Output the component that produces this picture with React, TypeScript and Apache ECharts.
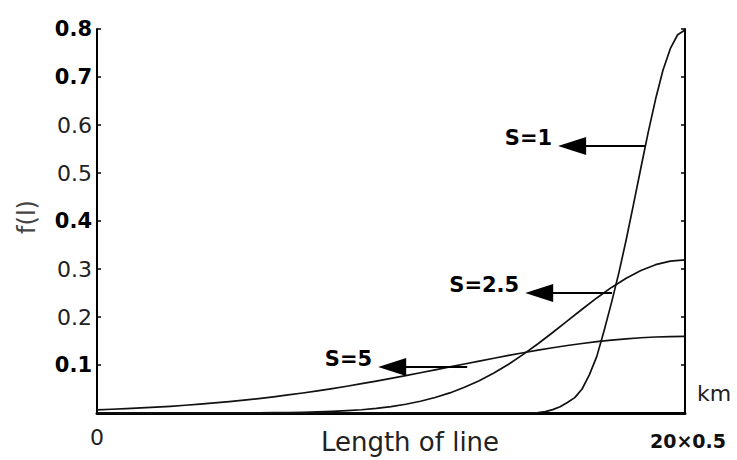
import React, { useEffect, useRef } from "react";
import * as echarts from "echarts";

// x in units of 0.5 km (0 .. 20)
const xCoarse = [0, 0.5, 1, 1.5, 2, 2.5, 3, 3.5, 4, 4.5, 5, 5.5, 6, 6.5, 7, 7.5, 8, 8.5, 9, 9.5, 10, 10.5, 11, 11.5, 12, 12.5, 13, 13.5, 14, 14.5, 15, 15.5, 16, 16.5, 17, 17.5, 18, 18.5, 19, 19.5, 20];
const s5Values = [0.0067, 0.0078, 0.0091, 0.0105, 0.0122, 0.014, 0.0161, 0.0184, 0.0209, 0.0237, 0.0267, 0.0301, 0.0337, 0.0376, 0.0417, 0.0462, 0.0509, 0.0558, 0.0611, 0.0665, 0.0722, 0.078, 0.0839, 0.0899, 0.096, 0.1021, 0.1082, 0.1141, 0.1199, 0.1255, 0.1309, 0.1359, 0.1406, 0.1448, 0.1486, 0.1519, 0.1546, 0.1568, 0.1583, 0.1593, 0.1596];
const s25Values = [0, 0, 0, 0, 0, 0, 0, 0.0001, 0.0001, 0.0002, 0.0003, 0.0004, 0.0006, 0.001, 0.0015, 0.0022, 0.0033, 0.0048, 0.0068, 0.0096, 0.0133, 0.0182, 0.0244, 0.0322, 0.0418, 0.0535, 0.0673, 0.0834, 0.1017, 0.1221, 0.1442, 0.1677, 0.1919, 0.2162, 0.2397, 0.2616, 0.2809, 0.297, 0.309, 0.3165, 0.319];
const xFine = [0, 14.75, 15, 15.25, 15.5, 15.75, 16, 16.25, 16.5, 16.75, 17, 17.25, 17.5, 17.75, 18, 18.25, 18.5, 18.75, 19, 19.25, 19.5, 19.75, 20];
const s1Values = [0, 0, 0.001, 0.003, 0.007, 0.013, 0.022, 0.032, 0.05, 0.08, 0.118, 0.172, 0.23, 0.292, 0.361, 0.435, 0.511, 0.585, 0.654, 0.714, 0.759, 0.788, 0.798];

const seriesNames = ["S=1", "S=2.5", "S=5"];
// arrow annotations: [arrowhead centre x, curve x, y]
const arrowS1 = [16.16, 18.64, 0.556];
const arrowS25 = [15.04, 17.52, 0.25];
const arrowS5 = [10.04, 12.59, 0.096];

const boldTicks = ["0.8", "0.7", "0.4", "0.1"];
const xEndLabels = ["0", "20×0.5"];

const FONT = "DejaVu Sans";

function pairs(xs: number[], ys: number[]) {
  return xs.map((x, i) => [x, ys[i]]);
}

function arrowLine(a: number[], name: string) {
  return {
    silent: true,
    animation: false,
    symbol: ["triangle", "none"],
    symbolSize: [18, 28],
    lineStyle: { color: "#000", width: 2, type: "solid" },
    label: {
      show: true,
      position: "start",
      distance: 20,
      formatter: `{t|${name}}`,
      rich: {
        t: {
          fontFamily: FONT,
          fontWeight: "bold",
          fontSize: 21,
          color: "#000",
          lineHeight: 22,
          padding: [0, 0, 16, 0],
        },
      },
    },
    data: [[{ coord: [a[0], a[2]] }, { coord: [a[1], a[2]] }]],
  };
}

export default function App() {
  const ref = useRef<HTMLDivElement>(null);
  useEffect(() => {
    document.body.style.margin = "0";
    const chart = echarts.init(ref.current!, null, { renderer: "svg" });
    const lineCommon = {
      type: "line",
      showSymbol: false,
      smooth: false,
      lineStyle: { color: "#111", width: 1.7, join: "round" },
      silent: true,
    };
    chart.setOption({
      animation: false,
      grid: { left: 97, right: 52, top: 29, bottom: 47 },
      xAxis: {
        type: "value",
        min: 0,
        max: 20,
        interval: 20,
        axisLine: { show: true, lineStyle: { color: "#000", width: 3 } },
        axisTick: { show: false },
        splitLine: { show: false },
        axisLabel: {
          showMinLabel: true,
          showMaxLabel: true,
          margin: 13,
          formatter: (v: number) => (v === 0 ? `{z|${xEndLabels[0]}}` : `{e|${xEndLabels[1]}}`),
          rich: {
            z: { fontFamily: FONT, fontSize: 22, color: "#222" },
            e: { fontFamily: FONT, fontSize: 19, fontWeight: "bold", color: "#111", padding: [5, 0, 0, 6] },
          },
        },
      },
      yAxis: [
        {
          type: "value",
          min: 0,
          max: 0.8,
          interval: 0.1,
          position: "left",
          axisLine: { show: true, lineStyle: { color: "#000", width: 2 } },
          axisTick: { show: true, inside: true, length: 4, lineStyle: { color: "#000", width: 1.5 } },
          splitLine: { show: false },
          axisLabel: {
            margin: 5,
            formatter: (v: number) => {
              if (v === 0) return "";
              const s = v.toFixed(1);
              return boldTicks.includes(s) ? `{b|${s}}` : `{n|${s}}`;
            },
            rich: {
              b: { fontFamily: FONT, fontWeight: "bold", fontSize: 21, color: "#000" },
              n: { fontFamily: FONT, fontSize: 22, color: "#222" },
            },
          },
        },
        {
          type: "value",
          min: 0,
          max: 0.8,
          interval: 0.1,
          position: "right",
          axisLine: { show: true, lineStyle: { color: "#000", width: 2 } },
          axisTick: { show: true, inside: true, length: 4, lineStyle: { color: "#000", width: 1.5 } },
          splitLine: { show: false },
          axisLabel: { show: false },
        },
      ],
      series: [
        { ...lineCommon, name: seriesNames[0], data: pairs(xFine, s1Values), markLine: arrowLine(arrowS1, seriesNames[0]) },
        { ...lineCommon, name: seriesNames[1], data: pairs(xCoarse, s25Values), markLine: arrowLine(arrowS25, seriesNames[1]) },
        { ...lineCommon, name: seriesNames[2], data: pairs(xCoarse, s5Values), markLine: arrowLine(arrowS5, seriesNames[2]) },
      ],
      graphic: [
        {
          type: "text",
          x: 410,
          y: 442,
          style: { text: "Length of line", font: `26px '${FONT}'`, fill: "#222", textAlign: "center", textVerticalAlign: "middle" },
        },
        {
          type: "text",
          x: 714,
          y: 393,
          style: { text: "km", font: `22px '${FONT}'`, fill: "#222", textAlign: "center", textVerticalAlign: "middle" },
        },
        {
          type: "text",
          x: 27,
          y: 217,
          rotation: Math.PI / 2,
          style: { text: "f(l)", font: `24px '${FONT}'`, fill: "#444", textAlign: "center", textVerticalAlign: "middle" },
        },
      ],
    });
    return () => chart.dispose();
  }, []);
  return <div ref={ref} style={{ width: 737, height: 460 }} />;
}
